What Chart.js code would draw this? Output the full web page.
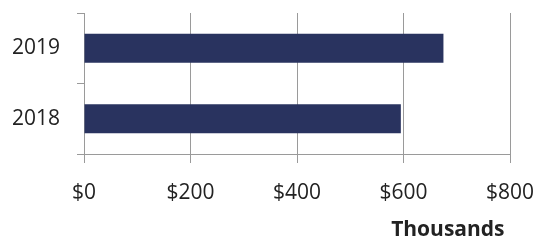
<!DOCTYPE html>
<html>
<head>
<meta charset="utf-8">
<script src="https://cdn.jsdelivr.net/npm/chart.js@4.4.0/dist/chart.umd.min.js"></script>
<style>
  html, body { margin: 0; padding: 0; background: #fff; }
  #chart { display: block; }
</style>
</head>
<body>
<canvas id="chart" width="539" height="240"></canvas>
<script>
// Data (values in thousands of dollars)
const years = ['2019', '2018'];
const amounts = [675, 595];
const xTicks = [0, 200, 400, 600, 800];

const gridGrey = '#9a9a9a';

const ctx = document.getElementById('chart').getContext('2d');
new Chart(ctx, {
  type: 'bar',
  data: {
    labels: years,
    datasets: [{
      data: amounts,
      backgroundColor: '#29335f',
      borderWidth: 0,
      categoryPercentage: 1,
      barPercentage: 0.41
    }]
  },
  options: {
    indexAxis: 'y',
    responsive: false,
    animation: false,
    layout: { padding: { top: 13, right: 29, left: 0, bottom: 0 } },
    plugins: {
      legend: { display: false },
      tooltip: { enabled: false }
    },
    scales: {
      x: {
        min: 0,
        max: 800,
        afterBuildTicks: axis => {
          axis.ticks = xTicks.map(v => ({ value: v }));
        },
        // fixed box so the plot area lands where the original has it
        afterFit: axis => {
          axis.height = 86;
          axis.paddingLeft = 0;
          axis.paddingRight = 0;
        },
        grid: {
          color: gridGrey,
          lineWidth: 1,
          tickLength: 9,
          drawOnChartArea: true
        },
        border: { color: gridGrey, width: 1 },
        ticks: {
          color: '#222',
          padding: 17,
          font: { family: 'Open Sans', size: 21 },
          callback: v => '$' + v
        },
        title: {
          display: true,
          text: 'Thousands ',
          align: 'end',
          color: '#222',
          padding: { top: 5, bottom: -3 },
          font: { family: 'Open Sans', size: 21, weight: 'bold' }
        }
      },
      y: {
        afterFit: axis => {
          axis.width = 84;
          axis.paddingTop = 0;
          axis.paddingBottom = 0;
        },
        grid: {
          offset: true,
          color: gridGrey,
          tickLength: 7,
          drawOnChartArea: false
        },
        border: { color: gridGrey, width: 1 },
        ticks: {
          color: '#222',
          padding: 17,
          font: { family: 'Open Sans', size: 21 }
        }
      }
    }
  }
});
</script>
</body>
</html>
